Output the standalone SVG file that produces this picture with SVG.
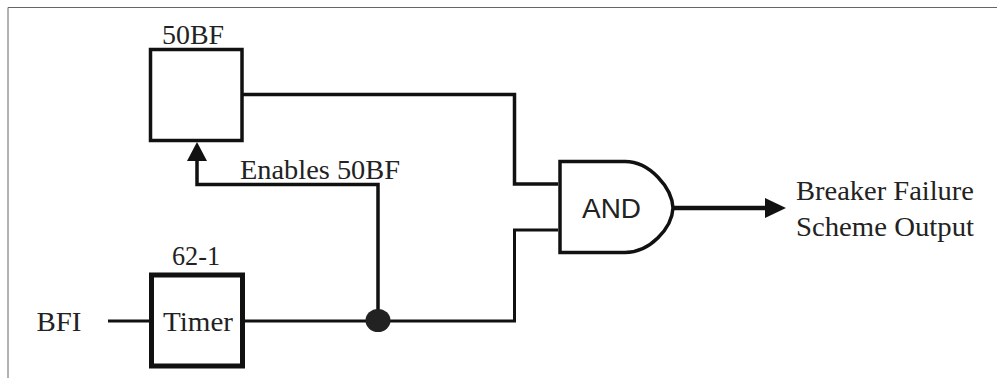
<svg xmlns="http://www.w3.org/2000/svg" width="997" height="378" viewBox="0 0 997 378">
<style>
.w{fill:none;stroke:#111;stroke-linejoin:miter}
.b{fill:#fff;stroke:#111}
.t{font-family:"Liberation Serif","Times New Roman",serif;font-size:28px;fill:#222}
.s{font-family:"Liberation Sans",Arial,sans-serif;font-size:28px;fill:#222}
</style>
<rect width="997" height="378" fill="#fff"/>
<path d="M8 378V7.500H997" fill="none" stroke="#666" stroke-width="1"/>
<g id="connectors">
<path class="w" stroke-width="3.500" d="M243 94.500H514.500V184H558"/>
<path class="w" stroke-width="3" d="M245 321H514.500V230H558"/>
<path class="w" stroke-width="3" d="M108 321H150"/>
<path class="w" stroke-width="3.500" d="M378 321V184.500H197V160"/>
<polygon points="197,142 187,161 207,161" fill="#111"/>
<path class="w" stroke-width="4.500" d="M674 208H768"/>
<polygon points="786,208 765,198 765,218" fill="#111"/>
<ellipse cx="378" cy="320.500" rx="12.500" ry="11.500" fill="#222"/>
</g>
<g id="node-50bf">
<rect class="b" x="150.500" y="49.500" width="91.500" height="91" stroke-width="3.500"/>
<text class="t" x="162" y="43.500" textLength="62" lengthAdjust="spacingAndGlyphs">50BF</text>
</g>
<g id="node-timer">
<rect class="b" x="151.500" y="275" width="91" height="91" stroke-width="5"/>
<text class="t" x="172" y="264.500" textLength="48" lengthAdjust="spacingAndGlyphs">62-1</text>
<text class="t" x="163" y="331" textLength="70" lengthAdjust="spacingAndGlyphs">Timer</text>
</g>
<g id="node-and">
<path class="b" stroke-width="3.500" d="M560 161.500H625C650 161.500 672 188 673 208C672 228 650 252.500 625 252.500H560Z"/>
<text class="s" x="582" y="218" textLength="59" lengthAdjust="spacingAndGlyphs">AND</text>
</g>
<text class="t" x="240" y="179" textLength="160" lengthAdjust="spacingAndGlyphs">Enables 50BF</text>
<text class="t" x="36.500" y="331" textLength="45" lengthAdjust="spacingAndGlyphs">BFI</text>
<text class="t" x="796" y="200" textLength="178" lengthAdjust="spacingAndGlyphs">Breaker Failure</text>
<text class="t" x="796" y="236" textLength="178" lengthAdjust="spacingAndGlyphs">Scheme Output</text>
</svg>
